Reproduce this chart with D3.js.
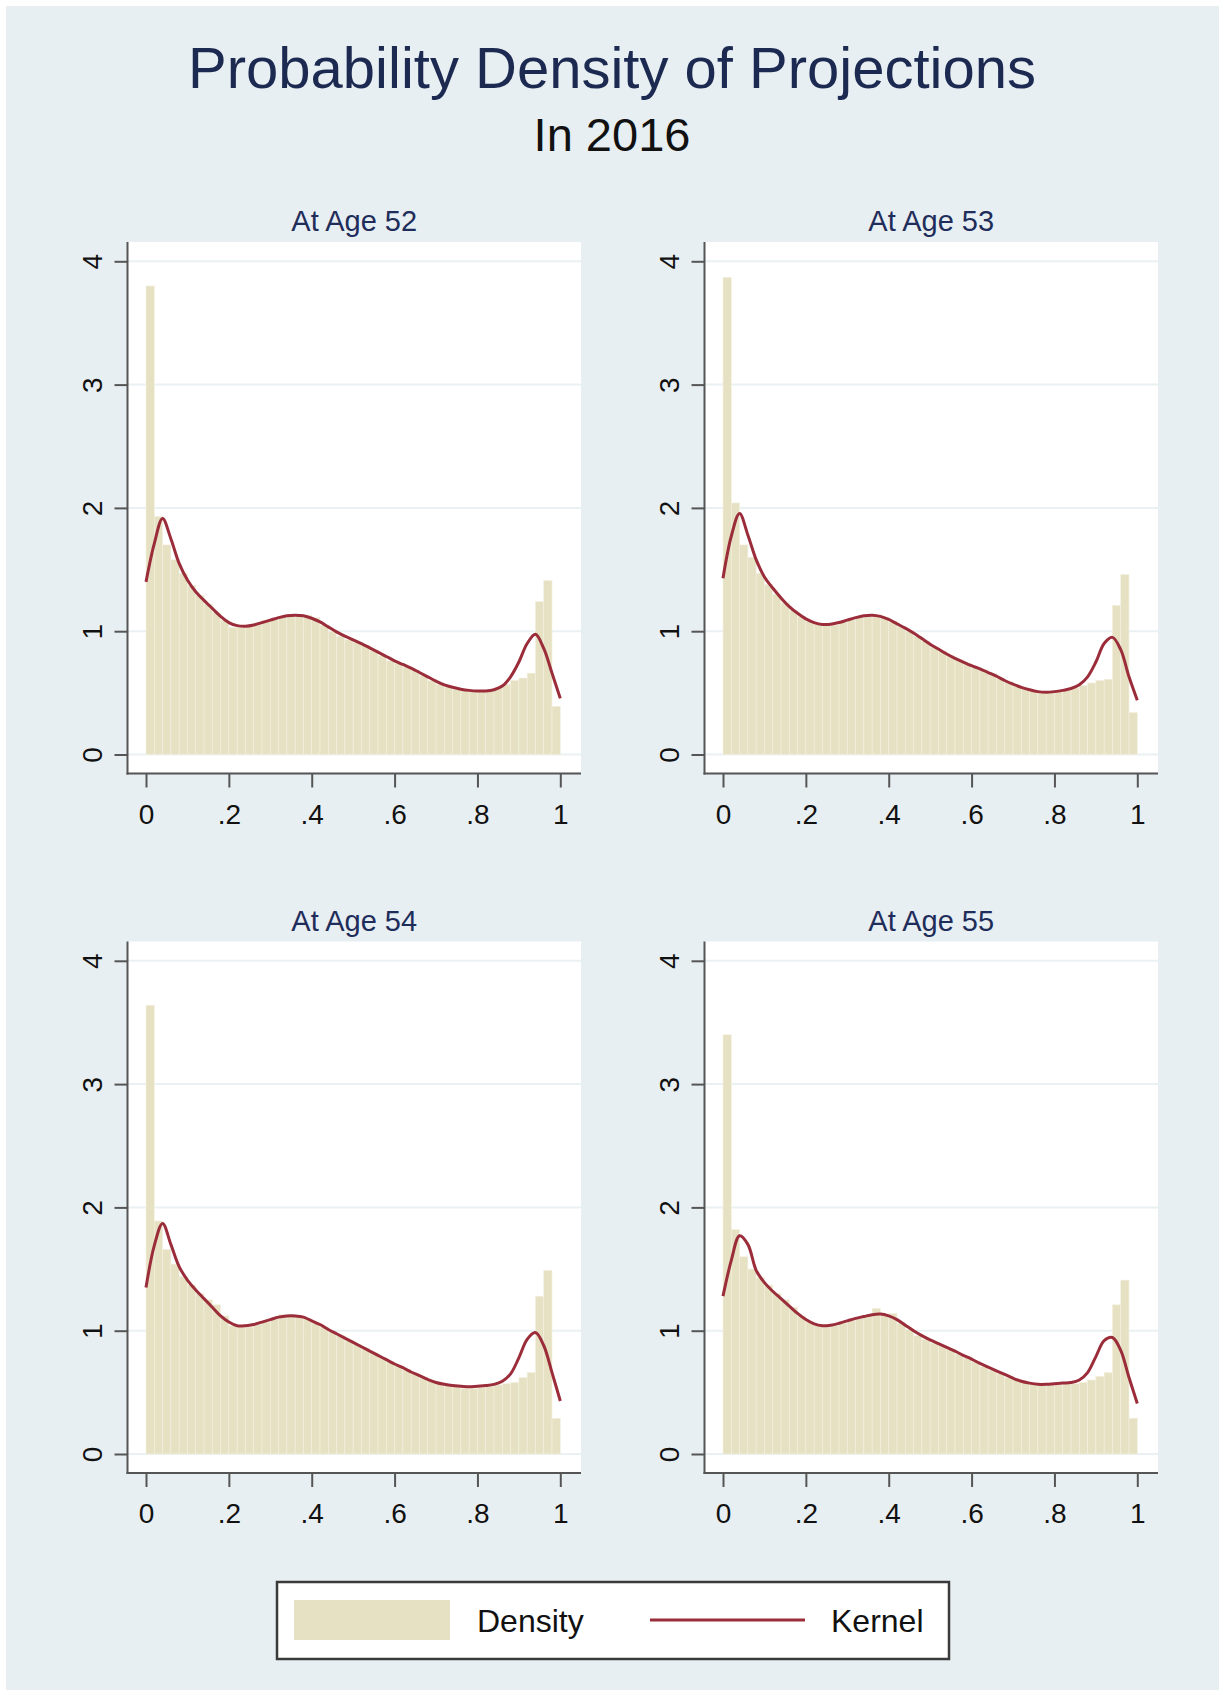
<!DOCTYPE html>
<html>
<head>
<meta charset="utf-8">
<script src="https://cdn.jsdelivr.net/npm/d3@7"></script>
<style>
  body { margin: 0; background: #fff; }
  text { font-family: "Liberation Sans", Arial, sans-serif; }
</style>
</head>
<body>
<script>
// histogram: 50 bins of width .02 on [0,1]
const nBins = 50;
const panelTitles = ["At Age 52", "At Age 53", "At Age 54", "At Age 55"];
const xTicks = [0, 0.2, 0.4, 0.6, 0.8, 1];
const yTicks = [0, 1, 2, 3, 4];

const bins52 = [3.80, 1.93, 1.70, 1.58, 1.47, 1.37, 1.29, 1.22, 1.15, 1.09,
                1.03, 1.03, 1.04, 1.06, 1.09, 1.10, 1.12, 1.13, 1.13, 1.13,
                1.11, 1.05, 1.00, 0.96, 0.93, 0.91, 0.88, 0.84, 0.80, 0.76,
                0.74, 0.71, 0.68, 0.64, 0.60, 0.57, 0.545, 0.53, 0.52, 0.51,
                0.51, 0.52, 0.54, 0.57, 0.60, 0.62, 0.66, 1.24, 1.41, 0.39];
const bins53 = [3.87, 2.04, 1.70, 1.60, 1.47, 1.38, 1.30, 1.23, 1.17, 1.12,
                1.08, 1.06, 1.05, 1.05, 1.07, 1.09, 1.11, 1.12, 1.12, 1.11,
                1.08, 1.04, 1.00, 0.96, 0.92, 0.87, 0.84, 0.80, 0.77, 0.74,
                0.71, 0.69, 0.66, 0.62, 0.59, 0.56, 0.535, 0.52, 0.50, 0.50,
                0.51, 0.52, 0.54, 0.56, 0.58, 0.60, 0.61, 1.21, 1.46, 0.34];
const bins54 = [3.64, 1.89, 1.66, 1.54, 1.44, 1.37, 1.30, 1.25, 1.21, 1.12,
                1.04, 1.03, 1.03, 1.05, 1.07, 1.10, 1.13, 1.13, 1.12, 1.10,
                1.06, 1.03, 0.99, 0.96, 0.92, 0.89, 0.855, 0.82, 0.785, 0.75,
                0.715, 0.685, 0.65, 0.62, 0.59, 0.57, 0.56, 0.55, 0.53, 0.53,
                0.54, 0.55, 0.56, 0.57, 0.58, 0.62, 0.66, 1.28, 1.49, 0.29];
const bins55 = [3.40, 1.82, 1.60, 1.50, 1.43, 1.37, 1.30, 1.25, 1.19, 1.12,
                1.07, 1.04, 1.03, 1.04, 1.06, 1.08, 1.10, 1.12, 1.18, 1.13,
                1.14, 1.06, 1.01, 0.96, 0.93, 0.90, 0.88, 0.85, 0.81, 0.78,
                0.75, 0.71, 0.68, 0.65, 0.62, 0.60, 0.58, 0.57, 0.56, 0.56,
                0.56, 0.57, 0.57, 0.58, 0.60, 0.63, 0.66, 1.21, 1.41, 0.29];

// kernel density read at x = 0, .02, .04, ... 1
const kernel52 = [1.40, 1.71, 1.915, 1.75, 1.55, 1.415, 1.32, 1.25, 1.185, 1.12,
                  1.07, 1.045, 1.04, 1.05, 1.07, 1.09, 1.11, 1.125, 1.13, 1.125,
                  1.105, 1.075, 1.035, 0.995, 0.96, 0.93, 0.90, 0.865, 0.83, 0.795,
                  0.76, 0.73, 0.70, 0.665, 0.63, 0.595, 0.565, 0.545, 0.53, 0.52,
                  0.515, 0.515, 0.525, 0.555, 0.63, 0.75, 0.90, 0.975, 0.86, 0.66,
                  0.455];
const kernel53 = [1.43, 1.77, 1.955, 1.78, 1.58, 1.44, 1.35, 1.27, 1.20, 1.145,
                  1.10, 1.07, 1.055, 1.057, 1.07, 1.09, 1.11, 1.125, 1.13, 1.12,
                  1.095, 1.06, 1.025, 0.985, 0.94, 0.895, 0.855, 0.815, 0.78, 0.75,
                  0.72, 0.695, 0.665, 0.635, 0.60, 0.57, 0.545, 0.525, 0.51, 0.505,
                  0.51, 0.52, 0.535, 0.565, 0.63, 0.75, 0.90, 0.95, 0.85, 0.63,
                  0.44];
const kernel54 = [1.35, 1.69, 1.87, 1.70, 1.52, 1.41, 1.33, 1.26, 1.19, 1.12,
                  1.07, 1.04, 1.04, 1.05, 1.07, 1.09, 1.11, 1.12, 1.12, 1.11,
                  1.08, 1.05, 1.01, 0.975, 0.94, 0.905, 0.87, 0.835, 0.80, 0.765,
                  0.73, 0.70, 0.665, 0.635, 0.605, 0.58, 0.565, 0.555, 0.55, 0.545,
                  0.55, 0.555, 0.565, 0.59, 0.65, 0.78, 0.93, 0.985, 0.88, 0.66,
                  0.43];
const kernel55 = [1.28, 1.57, 1.77, 1.70, 1.49, 1.39, 1.32, 1.26, 1.20, 1.14,
                  1.09, 1.055, 1.04, 1.045, 1.06, 1.08, 1.10, 1.115, 1.13, 1.135,
                  1.12, 1.09, 1.045, 1.00, 0.96, 0.925, 0.895, 0.865, 0.835, 0.80,
                  0.77, 0.735, 0.705, 0.675, 0.645, 0.615, 0.59, 0.575, 0.565, 0.565,
                  0.57, 0.575, 0.58, 0.60, 0.66, 0.79, 0.92, 0.945, 0.84, 0.62,
                  0.41];

const allBins = [bins52, bins53, bins54, bins55];
const allKernels = [kernel52, kernel53, kernel54, kernel55];

const W = 1225, H = 1695;
const barColor = "#e6e1c2";
const lineColor = "#9b2d3b";
const axisColor = "#555";

const svg = d3.select("body").append("svg")
  .attr("width", W)
  .attr("height", H);

svg.append("rect")
  .attr("x", 6).attr("y", 6)
  .attr("width", 1213).attr("height", 1684)
  .attr("fill", "#e8eff2");

svg.append("text")
  .attr("x", 612).attr("y", 88)
  .attr("text-anchor", "middle")
  .attr("font-size", 58)
  .attr("fill", "#1c2951")
  .text("Probability Density of Projections");

svg.append("text")
  .attr("x", 612).attr("y", 151)
  .attr("text-anchor", "middle")
  .attr("font-size", 47)
  .attr("fill", "#111")
  .text("In 2016");

// panel frame (panel 1 coords), others are shifted
const plotL = 127.5, plotR = 581, plotT = 242, plotB = 773.5;
const dx = 577, dy = 699.5;

const x = d3.scaleLinear().domain([0, 1]).range([146, 560.3]);
const y = d3.scaleLinear().domain([0, 4]).range([754.5, 261.3]);

const binLo = d3.range(nBins).map(i => i / nBins);
const kernelX = d3.range(nBins + 1).map(i => i / nBins);

const fmt = d => d === 0 ? "0" : d === 1 ? "1" : String(d).replace("0.", ".");

allBins.forEach((bins, p) => {
  const g = svg.append("g")
    .attr("transform", "translate(" + (p % 2) * dx + "," + Math.floor(p / 2) * dy + ")");

  g.append("rect")
    .attr("x", plotL).attr("y", plotT)
    .attr("width", plotR - plotL).attr("height", plotB - plotT)
    .attr("fill", "#fff");

  g.selectAll(".grid")
    .data(yTicks)
    .enter()
    .append("line")
    .attr("x1", plotL).attr("x2", plotR)
    .attr("y1", d => y(d)).attr("y2", d => y(d))
    .attr("stroke", "#eaf1f3")
    .attr("stroke-width", 2);

  g.selectAll(".bar")
    .data(bins)
    .enter()
    .append("rect")
    .attr("x", (d, i) => x(binLo[i]))
    .attr("y", d => y(d))
    .attr("width", x(1 / nBins) - x(0))
    .attr("height", d => y(0) - y(d))
    .attr("fill", barColor)
    .attr("stroke", "#f3f0e1")
    .attr("stroke-width", 0.6);

  const line = d3.line()
    .x((d, i) => x(kernelX[i]))
    .y(d => y(d))
    .curve(d3.curveCatmullRom.alpha(0.5));

  g.append("path")
    .datum(allKernels[p])
    .attr("d", line)
    .attr("fill", "none")
    .attr("stroke", lineColor)
    .attr("stroke-width", 3);

  // axes
  const xAxis = d3.axisBottom(x).tickValues(xTicks).tickFormat(fmt).tickSize(14);
  const ax = g.append("g")
    .attr("transform", "translate(0," + plotB + ")")
    .call(xAxis);
  ax.select(".domain").remove();
  ax.selectAll("line").attr("stroke", axisColor).attr("stroke-width", 2);
  ax.selectAll("text")
    .attr("y", 0).attr("dy", 0)
    .attr("transform", "translate(0,50)")
    .attr("font-size", 28)
    .attr("font-family", "Liberation Sans, Arial, sans-serif")
    .attr("fill", "#111");

  const yAxis = d3.axisLeft(y).tickValues(yTicks).tickFormat(d3.format("d")).tickSize(13);
  const ay = g.append("g")
    .attr("transform", "translate(" + plotL + ",0)")
    .call(yAxis);
  ay.select(".domain").remove();
  ay.selectAll("line").attr("stroke", axisColor).attr("stroke-width", 2);
  ay.selectAll("text")
    .attr("x", 0).attr("dy", 0)
    .attr("transform", "translate(-26,0) rotate(-90)")
    .attr("text-anchor", "middle")
    .attr("font-size", 28)
    .attr("font-family", "Liberation Sans, Arial, sans-serif")
    .attr("fill", "#111");

  g.append("line")
    .attr("x1", plotL).attr("x2", plotL)
    .attr("y1", plotT).attr("y2", plotB + 1)
    .attr("stroke", axisColor).attr("stroke-width", 2);
  g.append("line")
    .attr("x1", plotL - 1).attr("x2", plotR)
    .attr("y1", plotB).attr("y2", plotB)
    .attr("stroke", axisColor).attr("stroke-width", 2);

  g.append("text")
    .attr("x", (plotL + plotR) / 2).attr("y", 231)
    .attr("text-anchor", "middle")
    .attr("font-size", 29)
    .attr("fill", "#1f2d5a")
    .text(panelTitles[p]);
});

// legend
const lg = svg.append("g");
lg.append("rect")
  .attr("x", 277).attr("y", 1582)
  .attr("width", 672).attr("height", 77)
  .attr("fill", "#fff")
  .attr("stroke", "#3a3a3a")
  .attr("stroke-width", 2.5);
lg.append("rect")
  .attr("x", 294).attr("y", 1600)
  .attr("width", 156).attr("height", 40)
  .attr("fill", barColor);
lg.append("text")
  .attr("x", 477).attr("y", 1632)
  .attr("font-size", 32)
  .attr("fill", "#111")
  .text("Density");
lg.append("line")
  .attr("x1", 650).attr("x2", 805)
  .attr("y1", 1620).attr("y2", 1620)
  .attr("stroke", lineColor)
  .attr("stroke-width", 3);
lg.append("text")
  .attr("x", 831).attr("y", 1632)
  .attr("font-size", 32)
  .attr("fill", "#111")
  .text("Kernel");
</script>
</body>
</html>
